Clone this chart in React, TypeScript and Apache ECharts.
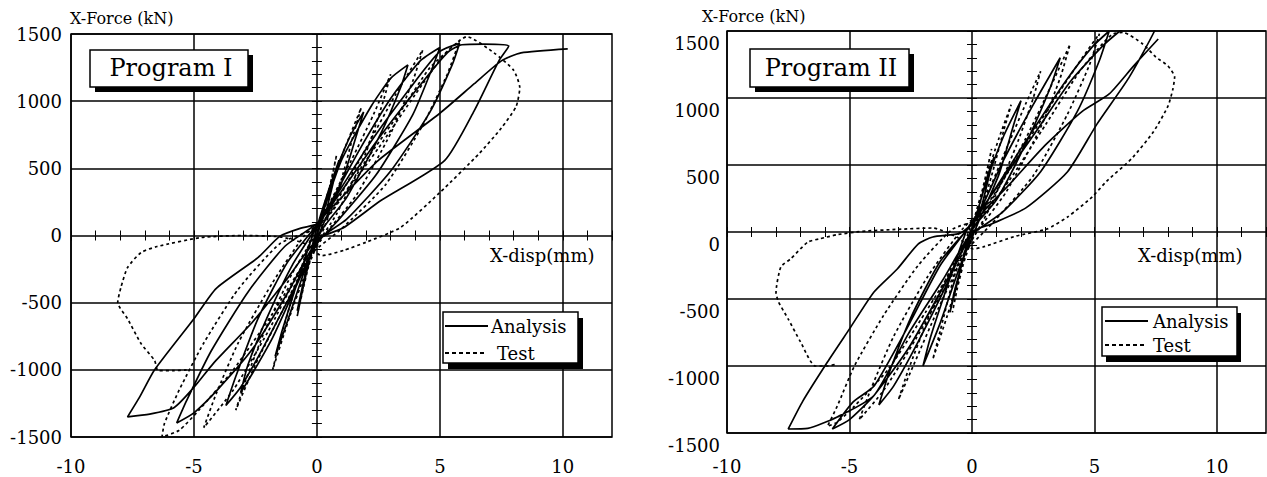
import React, { useEffect, useRef } from "react";
import * as echarts from "echarts";

// ---------- data ----------
const xTickLabels = [-10, -5, 0, 5, 10];
const yTickLabels = [-1500, -1000, -500, 0, 500, 1000, 1500];
const seriesNames = ["Analysis", "Test"];
const panelTitles = ["Program I", "Program II"];
const yAxisTitle = "X-Force (kN)";
const xAxisTitle = "X-disp(mm)";

const leftAnalysis = [
  [0, 0], [0.3, 200], [0.6, 400], [0.9, 560],
  [0.7, 420], [0.4, 200], [0.1, 60], [-0.3, -160], [-0.6, -390], [-0.8, -560],
  [-0.6, -400], [-0.3, -160], [0, 60], [0.6, 400], [1.3, 720], [1.9, 920],
  [1.6, 740], [1.0, 390], [0.2, 60], [-0.5, -260], [-1.2, -640], [-1.7, -900],
  [-1.4, -700], [-0.8, -350], [-0.1, 40], [0.2, 150], [1.0, 560], [2.2, 960], [3.0, 1170], [3.7, 1270],
  [3.4, 1100], [2.6, 760], [1.2, 280], [0.2, 40], [-0.8, -360], [-1.8, -760], [-2.6, -1020], [-3.1, -1170],
  [-2.8, -960], [-2.0, -600], [-1.0, -220], [0, 70], [0.6, 260], [1.8, 660], [3.0, 1020], [4.2, 1300], [5.0, 1400],
  [4.7, 1250], [3.9, 900], [2.4, 450], [0.8, 100], [0, -60], [-1.0, -420], [-2.2, -840], [-3.1, -1130], [-3.7, -1265],
  [-3.3, -1050], [-2.4, -620], [-1.2, -200], [0, 80], [0.8, 300], [2.2, 700], [3.8, 1100], [5.0, 1370], [5.8, 1430],
  [5.5, 1270], [4.6, 920], [3.0, 480], [1.2, 120], [0, -40], [-1.2, -430], [-2.6, -840], [-4.0, -1140], [-5.0, -1320], [-5.7, -1395],
  [-5.3, -1230], [-4.3, -860], [-2.8, -420], [-1.3, -80], [0, 90], [1.0, 330], [2.5, 720], [4.2, 1120], [5.3, 1360], [5.9, 1420], [6.8, 1425], [7.8, 1410],
  [7.4, 1300], [6.4, 930], [5.2, 560], [2.6, 260], [1.1, 60], [0, -30], [-1.2, -320], [-2.6, -640], [-4.2, -950], [-5.0, -1130], [-5.8, -1280], [-6.8, -1330], [-7.7, -1350],
  [-7.2, -1200], [-6.6, -1000], [-5.0, -620], [-4.1, -395], [-2.4, -165], [-1.5, -5], [-0.65, 55], [0, 85], [0.4, 170], [1.2, 320], [2.5, 560], [5.0, 910], [6.4, 1130], [7.5, 1300], [8.3, 1360], [10.2, 1390],
];

const leftTest = [
  [0, 0], [0.3, 200], [0.6, 420], [0.8, 600],
  [0.6, 430], [0.3, 180], [0, 0], [-0.3, -200], [-0.6, -430], [-0.8, -600],
  [-0.6, -420], [-0.3, -180], [0, 30], [0.5, 350], [1.2, 680], [1.8, 950],
  [1.5, 760], [1.0, 420], [0.3, 60], [-0.4, -250], [-1.1, -600], [-1.8, -1000],
  [-1.5, -780], [-0.9, -400], [-0.2, 0], [0.4, 200], [1.4, 560], [2.3, 900], [3.0, 1200],
  [2.7, 1000], [2.0, 620], [0.8, 160], [-0.3, -150], [-1.4, -560], [-2.5, -960], [-3.3, -1300],
  [-2.9, -1080], [-2.1, -700], [-1.0, -280], [0, 20], [0.8, 250], [2.0, 650], [3.2, 1050], [4.3, 1380],
  [3.9, 1150], [3.0, 760], [1.6, 300], [0.3, 0], [-0.8, -300], [-2.0, -720], [-3.4, -1150], [-4.6, -1430],
  [-4.1, -1180], [-3.2, -800], [-1.8, -350], [-0.5, 0], [0.5, 150], [2.0, 560], [3.5, 950], [4.6, 1250], [5.8, 1450],
  [5.3, 1200], [4.3, 820], [2.8, 380], [1.0, 50], [-0.3, -150], [-1.8, -580], [-3.4, -1000], [-4.8, -1300], [-5.6, -1450], [-6.3, -1500],
  [-6.2, -1400], [-5.6, -1150], [-4.6, -800], [-3.2, -400], [-1.5, -60], [0, 60], [1.0, 280], [2.5, 650], [4.0, 1050], [5.2, 1350], [6.1, 1480],
  [7.2, 1360], [8.0, 1230], [8.25, 1100], [8.1, 960], [7.5, 800], [6.6, 610], [5.0, 320], [3.4, 60], [2.0, -50], [1.1, -110], [0.2, -150],
  [-0.5, -60], [-1.5, -10], [-3.0, 0], [-4.7, -15], [-6.5, -82], [-7.15, -127], [-7.7, -238], [-7.97, -387], [-8.1, -499], [-7.7, -620],
  [-7.15, -805], [-6.6, -931], [-6.46, -1006], [-5.8, -1006], [-5.3, -1000],
];

const rightAnalysis = [
  [0, 0], [0.3, 200], [0.6, 400], [0.9, 560],
  [0.7, 420], [0.4, 200], [0.1, 80], [-0.3, -150], [-0.6, -380], [-0.9, -600],
  [-0.7, -430], [-0.3, -170], [0.1, 80], [0.6, 380], [1.3, 720], [2.0, 980],
  [1.7, 800], [1.1, 430], [0.3, 90], [-0.5, -260], [-1.3, -680], [-2.0, -1000],
  [-1.7, -790], [-1.0, -400], [-0.2, 20], [0.3, 150], [1.3, 540], [2.5, 950], [3.6, 1300],
  [3.2, 1080], [2.3, 700], [1.0, 240], [0, 20], [-1.0, -380], [-2.2, -820], [-3.2, -1150], [-3.8, -1290],
  [-3.4, -1060], [-2.5, -640], [-1.3, -220], [0, 60], [0.8, 280], [2.2, 680], [3.8, 1120], [4.9, 1380], [5.6, 1500],
  [5.2, 1280], [4.3, 900], [2.8, 450], [1.2, 140], [0, -20], [-1.2, -420], [-2.6, -870], [-4.0, -1220], [-5.0, -1400], [-5.7, -1470],
  [-4.85, -1268], [-4.0, -1150], [-2.6, -700], [-1.3, -250], [0, 70], [1.0, 330], [2.5, 720], [4.0, 1120], [5.4, 1400], [6.2, 1520], [7.0, 1580], [7.6, 1600],
  [7.45, 1500], [6.4, 1150], [5.1, 805], [3.9, 450], [2.2, 180], [0.8, 60], [0, 0], [-1.2, -360], [-2.6, -760], [-4.0, -1220], [-5.5, -1380], [-6.7, -1465], [-7.5, -1470],
  [-6.9, -1260], [-5.9, -970], [-5.0, -723], [-4.0, -448], [-3.05, -276], [-2.2, -90], [-1.6, -37], [-0.5, -10], [0, 60], [0.6, 180], [1.5, 350], [3.0, 650], [4.5, 900], [5.6, 1030], [6.6, 1240], [7.6, 1440],
];

const rightTest = [
  [0, 0], [0.3, 220], [0.6, 450], [0.8, 620],
  [0.6, 450], [0.3, 190], [0, 20], [-0.3, -200], [-0.6, -420], [-0.8, -600],
  [-0.6, -420], [-0.3, -170], [0, 40], [0.5, 360], [1.1, 700], [1.6, 950],
  [1.3, 760], [0.8, 420], [0.2, 60], [-0.4, -260], [-1.0, -620], [-1.6, -950],
  [-1.3, -740], [-0.8, -380], [-0.1, 20], [0.5, 230], [1.4, 620], [2.2, 960], [2.8, 1200],
  [2.5, 1000], [1.8, 640], [0.7, 170], [-0.3, -160], [-1.4, -580], [-2.4, -1000], [-3.0, -1250],
  [-2.6, -1030], [-1.8, -650], [-0.8, -250], [0.1, 40], [1.0, 300], [2.2, 700], [3.2, 1080], [4.0, 1400],
  [3.6, 1150], [2.8, 780], [1.4, 300], [0.2, 0], [-1.0, -380], [-2.3, -800], [-3.6, -1180], [-4.6, -1400],
  [-4.1, -1160], [-3.2, -780], [-1.8, -330], [-0.4, 20], [0.6, 200], [2.0, 600], [3.4, 1000], [4.5, 1300], [5.2, 1480],
  [4.8, 1250], [3.9, 880], [2.5, 420], [0.8, 60], [-0.4, -170], [-1.9, -600], [-3.4, -1020], [-4.8, -1300], [-5.5, -1420], [-5.9, -1450],
  [-5.5, -1300], [-4.8, -1000], [-3.6, -620], [-2.2, -250], [-0.8, 20], [0.3, 100], [1.5, 380], [3.0, 800], [4.4, 1200], [5.4, 1420], [5.75, 1477], [6.15, 1490],
  [6.97, 1403], [7.5, 1306], [8.0, 1239], [8.27, 1157], [8.2, 1067], [8.0, 940], [7.4, 746], [6.5, 545], [5.5, 380], [4.9, 261], [3.9, 112], [3.05, 22], [1.8, -30], [0.45, -112], [0.05, -127],
  [-0.6, -40], [-1.6, 30], [-3.0, 20], [-4.5, 5], [-5.5, -20], [-6.2, -50], [-6.7, -75], [-7.4, -200], [-7.8, -260], [-8.0, -450], [-7.9, -520], [-7.5, -650],
  [-7.0, -820], [-6.4, -1000], [-5.9, -1000], [-5.6, -990],
];

// ---------- styles ----------
const FONT = "DejaVu Serif";
const BLACK = "#000";
const SPLIT_COLORS = [BLACK, "transparent", "transparent", "transparent", "transparent"];

function xAxes(gridIndex: number, labelMargin: number) {
  return [
    {
      gridIndex, type: "value", position: "bottom", min: -10, max: 12, interval: 1,
      axisLine: { show: false },
      axisTick: { show: true, inside: true, length: 5, lineStyle: { color: BLACK, width: 1 } },
      axisLabel: {
        show: true, margin: labelMargin, color: BLACK, fontFamily: FONT, fontSize: 18,
        formatter: (v: number) => (xTickLabels.includes(v) ? String(v) : ""),
      },
      splitLine: { show: true, lineStyle: { color: SPLIT_COLORS, width: 1.5 } },
    },
    {
      gridIndex, type: "value", position: "top", min: -10, max: 12, interval: 1,
      axisLine: { show: false },
      axisTick: { show: true, inside: true, length: 5, lineStyle: { color: BLACK, width: 1 } },
      axisLabel: { show: false },
      splitLine: { show: false },
    },
  ];
}

function yAxes(gridIndex: number, labelMargin: number, shifted: boolean) {
  return [
    {
      gridIndex, type: "value", position: "left", min: -1500, max: 1500, interval: 100,
      axisLine: { show: false },
      axisTick: { show: true, inside: true, length: 5, lineStyle: { color: BLACK, width: 1 } },
      axisLabel: {
        show: true, margin: labelMargin, color: BLACK, fontFamily: FONT, fontSize: 18,
        verticalAlign: shifted ? "top" : "middle",
        lineHeight: shifted ? 24 : 20,
        formatter: (v: number) => (yTickLabels.includes(v) ? String(v) : ""),
      },
      splitLine: { show: true, lineStyle: { color: SPLIT_COLORS, width: 1.5 } },
    },
    {
      gridIndex, type: "value", position: "right", min: -1500, max: 1500, interval: 100,
      axisLine: { show: false },
      axisTick: { show: true, inside: true, length: 5, lineStyle: { color: BLACK, width: 1 } },
      axisLabel: { show: false },
      splitLine: { show: false },
    },
  ];
}

function lineSeries(name: string, data: number[][], axisIndex: number, dashed: boolean) {
  return {
    type: "line", name, data, xAxisIndex: axisIndex, yAxisIndex: axisIndex,
    symbol: "none", smooth: 0.2, silent: true, clip: true,
    lineStyle: { color: BLACK, width: 1.7, type: dashed ? [3, 3] : "solid" },
    z: 3,
  };
}

function boxWithShadow(x: number, y: number, w: number, h: number, dx: number, dy: number) {
  return [
    { type: "rect", shape: { x: x + dx, y: y + dy, width: w, height: h }, style: { fill: BLACK }, z: 10 },
    { type: "rect", shape: { x, y, width: w, height: h }, style: { fill: "#fff", stroke: BLACK, lineWidth: 1.5 }, z: 11 },
  ];
}

function text(str: string, x: number, y: number, size: number, align = "left") {
  return {
    type: "text", x, y, z: 12,
    style: { text: str, fill: BLACK, fontFamily: FONT, fontSize: size, align, verticalAlign: "middle" },
  };
}

function legendGraphic(x: number, y1: number, y2: number, lineEnd: number, t1x: number, t2x: number) {
  return [
    { type: "line", shape: { x1: x, y1, x2: lineEnd, y2: y1 }, style: { stroke: BLACK, lineWidth: 1.8 }, z: 12 },
    text(seriesNames[0], t1x, y1, 18),
    { type: "line", shape: { x1: x, y1: y2, x2: lineEnd - 3, y2 }, style: { stroke: BLACK, lineWidth: 1.8, lineDash: [4, 3] }, z: 12 },
    text(seriesNames[1], t2x, y2, 18),
  ];
}

export default function App() {
  const ref = useRef<HTMLDivElement>(null);
  useEffect(() => {
    if (!ref.current) return;
    const chart = echarts.init(ref.current, undefined, { renderer: "svg" });
    const option: any = {
      animation: false,
      backgroundColor: "#fff",
      grid: [
        { left: 71, top: 34, width: 541, height: 403, show: true, borderColor: BLACK, borderWidth: 1.5, backgroundColor: "transparent", containLabel: false, outerBoundsMode: "none" },
        { left: 727, top: 31, width: 539, height: 402, show: true, borderColor: BLACK, borderWidth: 1.5, backgroundColor: "transparent", containLabel: false, outerBoundsMode: "none" },
      ],
      xAxis: [...xAxes(0, 20), ...xAxes(1, 24)],
      yAxis: [...yAxes(0, 9, false), ...yAxes(1, 7, true)],
      series: [
        lineSeries(seriesNames[0], leftAnalysis, 0, false),
        lineSeries(seriesNames[1], leftTest, 0, true),
        lineSeries(seriesNames[0], rightAnalysis, 2, false),
        lineSeries(seriesNames[1], rightTest, 2, true),
      ],
      graphic: [
        text(yAxisTitle, 70, 18, 16),
        text(yAxisTitle, 702, 16, 16),
        text(xAxisTitle, 490, 255, 18),
        text(xAxisTitle, 1138, 255, 18),
        ...boxWithShadow(90, 50, 158, 37, 5, 5),
        text(panelTitles[0], 171, 68, 24, "center"),
        ...boxWithShadow(750, 49, 159, 38, 5, 5),
        text(panelTitles[1], 831, 68, 24, "center"),
        ...boxWithShadow(443, 312, 135, 51, 5, 6),
        ...legendGraphic(445, 326, 353, 488, 491, 497),
        ...boxWithShadow(1102, 307, 135, 49, 4, 6),
        ...legendGraphic(1105, 321, 345, 1148, 1153, 1153),
      ],
    };
    chart.setOption(option);
    return () => chart.dispose();
  }, []);
  return <div ref={ref} style={{ position: "absolute", left: 0, top: 0, width: 1267, height: 477 }} />;
}
